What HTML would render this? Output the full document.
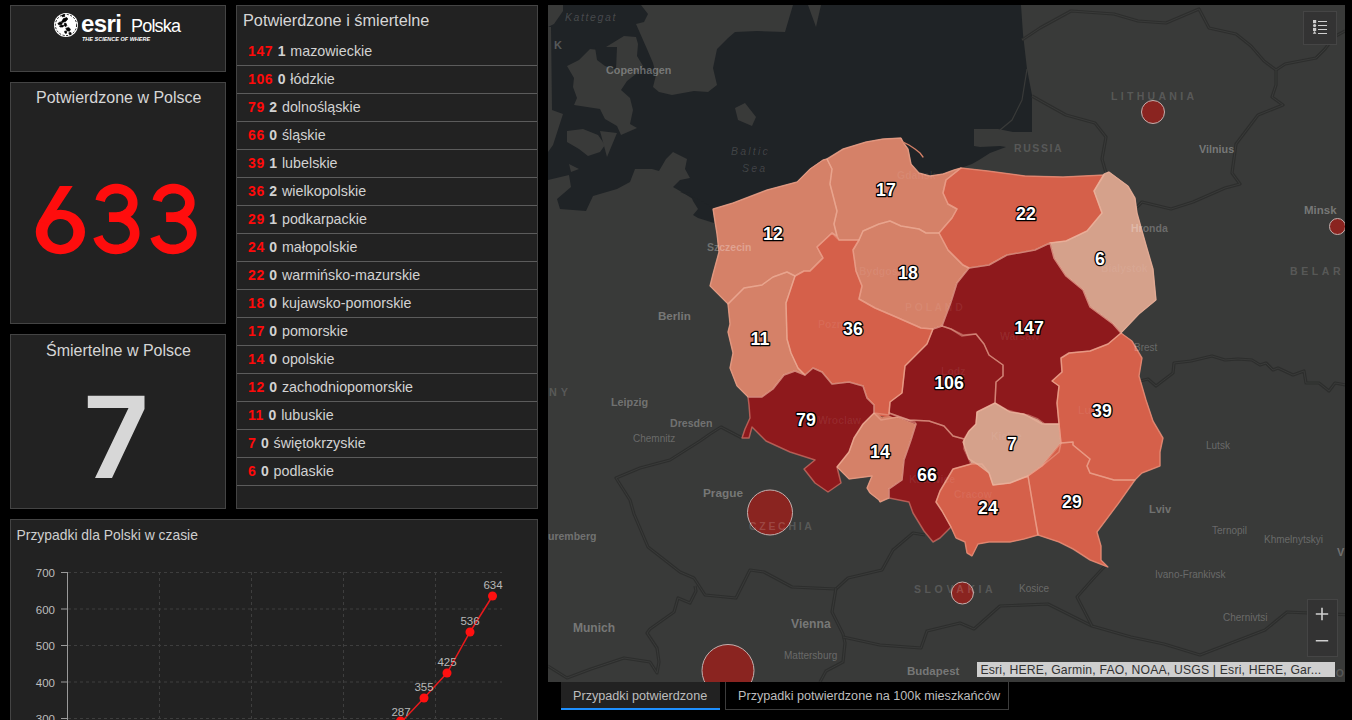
<!DOCTYPE html>
<html><head><meta charset="utf-8">
<style>
*{margin:0;padding:0;box-sizing:border-box}
html,body{width:1352px;height:720px;overflow:hidden;background:#000;font-family:"Liberation Sans",sans-serif}
.p{position:absolute;background:#222;border:1px solid #444}
.t{position:absolute;white-space:nowrap;line-height:1}
#logo{left:10px;top:5px;width:216px;height:67px}
#conf{left:10px;top:82px;width:216px;height:242px}
#dead{left:10px;top:334px;width:216px;height:175px}
#list{left:236px;top:5px;width:302px;height:504px;overflow:hidden}
#chart{left:10px;top:519px;width:528px;height:220px;overflow:hidden}
.ttl{color:#d6d6d6;font-size:16px}
.big{font-size:98px;line-height:1}
.row{position:absolute;left:0;width:300px;height:28px;border-bottom:1px solid #5c5c5c}
.rt{position:absolute;left:11px;top:0;line-height:26px;font-size:14.3px;color:#d2d2d2;white-space:nowrap;word-spacing:0.6px}
.r{color:#ff0a0a;font-weight:bold;letter-spacing:0.6px;font-size:14px}
.d{color:#d2d2d2;font-weight:bold;letter-spacing:0.2px;font-size:14px}
.tab{position:absolute;top:682px;height:28px;font-size:12.65px;color:#bdbdbd;white-space:nowrap}
</style></head><body>
<div class="p" id="logo">
  <svg width="30" height="30" viewBox="0 0 30 30" style="position:absolute;left:41px;top:5px">
    <circle cx="14" cy="14" r="12" fill="#fff"/>
    <circle cx="14" cy="14" r="10.6" fill="none" stroke="#000" stroke-width="0.9" stroke-dasharray="2,1.6"/>
    <g fill="#000" stroke="#000" stroke-width="0.7" stroke-linejoin="round">
      <path d="M9.5 10.8 L11.5 7.6 L14.8 6.6 L15.8 8 L13.6 10.6 L11 11.2Z"/>
      <path d="M5.8 12.6 L8 10.9 L10.6 11.4 L9.6 13.4 L6.8 13.8Z"/>
      <path d="M7.4 15.2 L9.6 14 L11.8 14.6 L11 15.9 L8.4 16Z"/>
      <path d="M12.2 12.6 L14 12.2 L14.8 14.6 L13.6 15.8 L12.4 14.8Z"/>
      <path d="M13.8 17.4 L16.6 16.4 L18.4 18 L17.6 20.2 L15 19.8Z"/>
      <path d="M12.6 20.2 L14.4 20 L14.6 22.2 L13 22.2Z"/>
      <path d="M16.8 21.8 L18.8 21.4 L19.2 23.2 L17.4 23.6Z"/>
      <path d="M9.8 4.2 L12.4 3.6 L12.8 5.4 L10.2 5.8Z"/>
    </g>
  </svg>
  <div class="t" style="left:70px;top:5.5px;font-size:24px;font-weight:bold;color:#fff;letter-spacing:-0.6px">esri</div>
  <div class="t" style="left:120px;top:11px;font-size:18px;color:#fff;letter-spacing:-0.8px">Polska</div>
  <div class="t" style="left:71px;top:30.7px;font-size:5.5px;font-weight:bold;font-style:italic;color:#fff">THE SCIENCE OF WHERE</div>
</div>
<div class="p" id="conf">
  <div class="t ttl" style="left:25px;top:7px">Potwierdzone w Polsce</div>
  <svg width="1352" height="720" style="position:absolute;left:-11px;top:-83px"><g fill="#ff0d0d"><path fill-rule="evenodd" d="M35.8 232.0 A24.6 22.2 0 1 0 85.0 232.0 A24.6 22.2 0 1 0 35.8 232.0 Z M47.5 232.0 A12.9 12.9 0 1 0 73.3 232.0 A12.9 12.9 0 1 0 47.5 232.0 Z"/><path d="M59.8 186 L72.7 186 L56.5 210.6 L48 224 L38.7 221.5 Z"/></g><g fill="none" stroke="#ff0d0d" stroke-width="9.6"><path d="M100.2 200.8 L100.6 199.2 L101.1 197.7 L101.9 196.2 L102.9 194.8 L104.0 193.5 L105.3 192.4 L106.8 191.3 L108.3 190.5 L110.0 189.7 L111.8 189.2 L113.6 188.8 L115.4 188.6 L117.3 188.6 L119.2 188.8 L121.0 189.2 L122.7 189.7 L124.4 190.4 L126.0 191.3 L127.4 192.3 L128.7 193.5 L129.9 194.8 L130.8 196.2 L131.6 197.6 L132.2 199.2 L132.6 200.8 L132.7 202.4 L132.7 204.0 L132.4 205.6 L132.0 207.2 L131.3 208.7 L130.4 210.1 L129.4 211.5 L128.1 212.7 L126.8 213.8 L125.2 214.7 L123.6 215.5 L121.9 216.2 L120.1 216.6 L118.3 216.9 L116.4 217.0 L109.0 217.1 M109.0 217.2 L116.1 217.0 L118.2 217.1 L120.3 217.4 L122.3 217.9 L124.2 218.6 L126.0 219.5 L127.7 220.6 L129.3 221.8 L130.7 223.1 L131.9 224.6 L132.9 226.2 L133.7 227.9 L134.3 229.7 L134.6 231.5 L134.7 233.3 L134.6 235.1 L134.2 236.9 L133.6 238.6 L132.8 240.3 L131.8 241.9 L130.6 243.4 L129.1 244.7 L127.6 245.9 L125.9 247.0 L124.0 247.9 L122.1 248.5 L120.1 249.0 L118.0 249.3 L115.9 249.4 L113.8 249.3 L111.8 249.0 L109.8 248.4 L107.8 247.7 L106.0 246.8 L104.3 245.7 L102.8 244.5 L101.4 243.1 L100.2 241.6 L99.2 240.0 L98.5 238.3 L97.9 236.6"/><path d="M157.3 200.8 L157.7 199.2 L158.2 197.7 L159.0 196.2 L160.0 194.8 L161.1 193.5 L162.4 192.4 L163.9 191.3 L165.4 190.5 L167.1 189.7 L168.9 189.2 L170.7 188.8 L172.5 188.6 L174.4 188.6 L176.3 188.8 L178.1 189.2 L179.8 189.7 L181.5 190.4 L183.1 191.3 L184.5 192.3 L185.8 193.5 L187.0 194.8 L187.9 196.2 L188.7 197.6 L189.3 199.2 L189.7 200.8 L189.8 202.4 L189.8 204.0 L189.5 205.6 L189.1 207.2 L188.4 208.7 L187.5 210.1 L186.5 211.5 L185.2 212.7 L183.9 213.8 L182.3 214.7 L180.7 215.5 L179.0 216.2 L177.2 216.6 L175.4 216.9 L173.5 217.0 L166.1 217.1 M166.1 217.2 L173.2 217.0 L175.3 217.1 L177.4 217.4 L179.4 217.9 L181.3 218.6 L183.1 219.5 L184.8 220.6 L186.4 221.8 L187.8 223.1 L189.0 224.6 L190.0 226.2 L190.8 227.9 L191.4 229.7 L191.7 231.5 L191.8 233.3 L191.7 235.1 L191.3 236.9 L190.7 238.6 L189.9 240.3 L188.9 241.9 L187.7 243.4 L186.2 244.7 L184.7 245.9 L183.0 247.0 L181.1 247.9 L179.2 248.5 L177.2 249.0 L175.1 249.3 L173.0 249.4 L170.9 249.3 L168.9 249.0 L166.9 248.4 L164.9 247.7 L163.1 246.8 L161.4 245.7 L159.9 244.5 L158.5 243.1 L157.3 241.6 L156.3 240.0 L155.6 238.3 L155.0 236.6"/></g></svg>
</div>
<div class="p" id="dead">
  <div class="t ttl" style="left:35px;top:8px">Śmiertelne w Polsce</div>
  <svg width="216" height="175" style="position:absolute;left:-1px;top:-1px"><polygon points="77.8,61.8 134.5,61.8 134.5,75 102,144 85,144 118.5,74 77.8,74" fill="#d7d7d7"/></svg>
</div>
<div class="p" id="list">
  <div class="t ttl" style="left:6px;top:6px;font-size:16.3px">Potwierdzone i śmiertelne</div>
<div class="row" style="top:32px"><div class="rt"><b class="r">147</b> <b class="d">1</b> mazowieckie</div></div>
<div class="row" style="top:60px"><div class="rt"><b class="r">106</b> <b class="d">0</b> łódzkie</div></div>
<div class="row" style="top:88px"><div class="rt"><b class="r">79</b> <b class="d">2</b> dolnośląskie</div></div>
<div class="row" style="top:116px"><div class="rt"><b class="r">66</b> <b class="d">0</b> śląskie</div></div>
<div class="row" style="top:144px"><div class="rt"><b class="r">39</b> <b class="d">1</b> lubelskie</div></div>
<div class="row" style="top:172px"><div class="rt"><b class="r">36</b> <b class="d">2</b> wielkopolskie</div></div>
<div class="row" style="top:200px"><div class="rt"><b class="r">29</b> <b class="d">1</b> podkarpackie</div></div>
<div class="row" style="top:228px"><div class="rt"><b class="r">24</b> <b class="d">0</b> małopolskie</div></div>
<div class="row" style="top:256px"><div class="rt"><b class="r">22</b> <b class="d">0</b> warmińsko-mazurskie</div></div>
<div class="row" style="top:284px"><div class="rt"><b class="r">18</b> <b class="d">0</b> kujawsko-pomorskie</div></div>
<div class="row" style="top:312px"><div class="rt"><b class="r">17</b> <b class="d">0</b> pomorskie</div></div>
<div class="row" style="top:340px"><div class="rt"><b class="r">14</b> <b class="d">0</b> opolskie</div></div>
<div class="row" style="top:368px"><div class="rt"><b class="r">12</b> <b class="d">0</b> zachodniopomorskie</div></div>
<div class="row" style="top:396px"><div class="rt"><b class="r">11</b> <b class="d">0</b> lubuskie</div></div>
<div class="row" style="top:424px"><div class="rt"><b class="r">7</b> <b class="d">0</b> świętokrzyskie</div></div>
<div class="row" style="top:452px"><div class="rt"><b class="r">6</b> <b class="d">0</b> podlaskie</div></div>
</div>
<div class="p" id="chart">
  <div class="t" style="left:5.5px;top:9px;font-size:13.9px;color:#cfcfcf">Przypadki dla Polski w czasie</div>
  <svg width="528" height="220" viewBox="10 519 528 220" style="position:absolute;left:-1px;top:-1px">
    <g stroke="#3e3e3e" stroke-width="1" stroke-dasharray="3,3" fill="none">
      <path d="M68 572.5H502 M68 609H502 M68 645.5H502 M68 682H502 M68 718.5H502"/>
      <path d="M159.5 572V720 M251.5 572V720 M343.5 572V720 M435.5 572V720"/>
    </g>
    <path d="M67.5 572V720 M61 572.5H67.5 M61 609H67.5 M61 645.5H67.5 M61 682H67.5 M61 718.5H67.5" stroke="#9a9a9a" stroke-width="1" fill="none"/>
    <g font-family="Liberation Sans" font-size="11.5" fill="#bdbdbd" text-anchor="end">
      <text x="55" y="577">700</text><text x="55" y="613.5">600</text><text x="55" y="650">500</text><text x="55" y="686.5">400</text><text x="55" y="723">300</text>
    </g>
    <polyline points="378,736 400.5,723 424,698 447,673 470,632 492.5,596" fill="none" stroke="#e8191c" stroke-width="1.5"/>
    <g fill="#ff1010"><circle cx="400.5" cy="721" r="4.5"/><circle cx="424" cy="698" r="4.5"/><circle cx="447" cy="673" r="4.5"/><circle cx="470" cy="632" r="4.5"/><circle cx="492.5" cy="596" r="4.5"/></g>
    <g font-family="Liberation Sans" font-size="11.5" fill="#b8b8b8" text-anchor="middle">
      <text x="401" y="716">287</text><text x="424" y="691">355</text><text x="447" y="666">425</text><text x="470" y="624.5">536</text><text x="493" y="589">634</text>
    </g>
  </svg>
</div>
<div class="tab" style="left:561px;width:159px;background:#222;border-bottom:2px solid #1e90ff"><span style="position:absolute;left:12px;top:8.2px;line-height:1">Przypadki potwierdzone</span></div>
<div class="tab" style="left:725px;width:284px;border:1px solid #3c3c3c;border-top:none"><span style="position:absolute;left:12px;top:8.2px;line-height:1">Przypadki potwierdzone na 100k mieszkańców</span></div>
<svg width="1352" height="720" viewBox="0 0 1352 720" style="position:absolute;left:0;top:0">
<defs><clipPath id="mc"><rect x="548" y="5" width="797" height="677"/></clipPath></defs>
<g clip-path="url(#mc)">
<rect x="548" y="5" width="797" height="677" fill="#393a39"/>
<polygon points="548,5 1021,5 1023,34 1027,69 1032,95 1032,132 1013,132 998,129 974,129 974,146 980,147 1000,146 1006,147 990,153 979,160 972,164 961,168 943,174 930,176 919,173 911,164 908,149 903,142 901,138 883,139 866,142 843,149 823,160 810,169 797,182 767,190 733,203 713,209 704,208 696,201 685,194 673,187 680,180 690,178 685,169 687,159 673,152 666,159 659,171 652,169 635,169 630,182 617,189 593,196 586,211 560,209 557,199 571,187 569,175 548,180" fill="#1f2326"/>
<polygon points="641,5 793,5 785,32 757,31 735,32 728,38 717,49 713,68 717,85 708,92 694,91 672,95 659,92 653,87 656,75 653,63 647,49 636,24 644,22 648,14" fill="#393a39"/>
<polygon points="808,5 821,5 816,27" fill="#393a39"/>
<polygon points="567,66 579,60 590,49 599,50 606,47 624,36 636,37 638,44 637,56 643,66 636,74 627,81 621,90 630,98 633,110 630,124 637,128 621,135 617,126 605,119 600,109 574,105 577,98 573,87 574,78" fill="#393a39"/>
<polygon points="567,131 583,129 598,135 605,145 600,152 588,156 579,149 567,142" fill="#393a39"/>
<polygon points="600,131 617,133 607,157" fill="#393a39"/>
<polygon points="569,164 579,169 571,172" fill="#393a39"/>
<polygon points="548,5 563,5 563,11 554,24 548,27" fill="#393a39"/>
<polygon points="548,27 551,27 552,110 563,114 553,145 548,152" fill="#393a39"/>
<polygon points="735,108 745,103 756,117 752,126 738,120" fill="#393a39"/>
<polygon points="595,47 617,47 616,70 605,66 597,60" fill="#1f2326"/>
<polygon points="680,192 700,200 713,208 714,223 698,218 693,215 698,209 693,201 690,193" fill="#1f2326"/>
<polyline points="1027,69 1022,100 1012,120 1000,130" fill="none" stroke="#393a39" stroke-width="1.2"/>
<polyline points="1022,40 1040,28 1071,11 1114,14 1138,21 1166,23 1199,9 1209,28 1236,34 1251,46 1264,61 1276,70 1285,64 1316,58 1325,49 1334,37 1345,31" fill="none" stroke="#2d2e2d" stroke-width="3.2" stroke-linejoin="round"/>
<polyline points="1022,40 1040,28 1071,11 1114,14 1138,21 1166,23 1199,9 1209,28 1236,34 1251,46 1264,61 1276,70 1285,64 1316,58 1325,49 1334,37 1345,31" fill="none" stroke="#393a39" stroke-width="1" stroke-linejoin="round"/>
<polyline points="1276,70 1276,85 1272,97 1283,105 1258,115 1236,144 1232,173 1240,184 1225,188 1193,202 1171,209 1142,202 1137,207" fill="none" stroke="#2d2e2d" stroke-width="3.2" stroke-linejoin="round"/>
<polyline points="1276,70 1276,85 1272,97 1283,105 1258,115 1236,144 1232,173 1240,184 1225,188 1193,202 1171,209 1142,202 1137,207" fill="none" stroke="#393a39" stroke-width="1" stroke-linejoin="round"/>
<polyline points="1032,96 1048,105 1066,115 1095,123 1106,137 1102,159 1106,173" fill="none" stroke="#2d2e2d" stroke-width="3.2" stroke-linejoin="round"/>
<polyline points="1032,96 1048,105 1066,115 1095,123 1106,137 1102,159 1106,173" fill="none" stroke="#393a39" stroke-width="1" stroke-linejoin="round"/>
<polyline points="1140,381 1148,379 1156,386 1173,373 1174,363 1191,361 1212,356 1225,360 1238,359 1252,360 1260,365 1266,363 1273,370 1278,368 1293,375 1304,371 1306,383 1319,383 1329,391 1335,383 1352,386" fill="none" stroke="#2d2e2d" stroke-width="3.2" stroke-linejoin="round"/>
<polyline points="1140,381 1148,379 1156,386 1173,373 1174,363 1191,361 1212,356 1225,360 1238,359 1252,360 1260,365 1266,363 1273,370 1278,368 1293,375 1304,371 1306,383 1319,383 1329,391 1335,383 1352,386" fill="none" stroke="#393a39" stroke-width="1" stroke-linejoin="round"/>
<polyline points="742,438 721,427 710,434 700,441 670,460 640,468 616,478 630,500 634,514 648,547 680,572 694,578 705,595 736,598 750,570 764,572 792,587 836,589 848,578 882,570 893,550 913,533 925,535" fill="none" stroke="#2d2e2d" stroke-width="3.2" stroke-linejoin="round"/>
<polyline points="742,438 721,427 710,434 700,441 670,460 640,468 616,478 630,500 634,514 648,547 680,572 694,578 705,595 736,598 750,570 764,572 792,587 836,589 848,578 882,570 893,550 913,533 925,535" fill="none" stroke="#393a39" stroke-width="1" stroke-linejoin="round"/>
<polyline points="695,586 696,591 690,603 678,598 674,612 650,629 647,633 657,648 659,662 657,673 650,662 624,658 591,669 567,678 548,666" fill="none" stroke="#2d2e2d" stroke-width="3.2" stroke-linejoin="round"/>
<polyline points="695,586 696,591 690,603 678,598 674,612 650,629 647,633 657,648 659,662 657,673 650,662 624,658 591,669 567,678 548,666" fill="none" stroke="#393a39" stroke-width="1" stroke-linejoin="round"/>
<polyline points="836,588 832,612 843,634 845,643 843,662 826,671 820,682" fill="none" stroke="#2d2e2d" stroke-width="3.2" stroke-linejoin="round"/>
<polyline points="836,588 832,612 843,634 845,643 843,662 826,671 820,682" fill="none" stroke="#393a39" stroke-width="1" stroke-linejoin="round"/>
<polyline points="843,637 880,645 921,648 927,631 960,623 974,629 1000,606 1048,604 1092,626 1131,637 1164,644 1200,655 1265,630 1287,612 1352,615" fill="none" stroke="#2d2e2d" stroke-width="3.2" stroke-linejoin="round"/>
<polyline points="843,637 880,645 921,648 927,631 960,623 974,629 1000,606 1048,604 1092,626 1131,637 1164,644 1200,655 1265,630 1287,612 1352,615" fill="none" stroke="#393a39" stroke-width="1" stroke-linejoin="round"/>
<polyline points="1105,566 1092,580 1077,597 1092,626" fill="none" stroke="#2d2e2d" stroke-width="3.2" stroke-linejoin="round"/>
<polyline points="1105,566 1092,580 1077,597 1092,626" fill="none" stroke="#393a39" stroke-width="1" stroke-linejoin="round"/>
<clipPath id="pl"><polygon points="713,209 733,203 767,190 797,182 810,169 823,160 827,159 843,149 866,142 883,139 901,138 903,142 908,149 911,164 919,173 930,176 943,174 954,170 961,168 988,171 1025,176 1063,177 1104,175 1109,172 1128,186 1135,198 1137,213 1146,245 1153,269 1156,300 1139,314 1121,333 1132,341 1142,358 1139,376 1146,400 1153,421 1163,438 1160,452 1160,466 1142,473 1135,480 1118,504 1097,532 1101,546 1101,560 1108,567 1090,560 1073,549 1059,542 1038,535 1024,539 1010,542 989,542 978,544 972,556 967,553 965,542 956,538 951,527 940,538 933,542 924,531 913,513 909,502 889,498 880,502 879,500 870,493 867,488 872,476 849,479 839,469 837,467 841,483 828,492 815,483 804,469 815,460 790,452 766,441 756,431 752,427 749,438 742,438 745,429 750,418 749,405 748,397 737,386 730,368 733,353 728,332 730,324 728,304 719,295 710,286 713,274 719,252 717,234"/></clipPath>
<g clip-path="url(#pl)">
<polygon points="713,209 733,203 767,190 797,182 810,169 823,160 827,159 832,169 830,184 837,211 834,224 837,236 832,233 817,247 823,258 810,271 804,271 795,276 787,272 773,277 762,285 744,288 728,304 719,295 710,286 713,274 719,252 717,234" fill="#d58168" stroke="#d58168" stroke-width="5" stroke-linejoin="round"/>
<polygon points="827,159 843,149 866,142 883,139 901,138 903,142 908,149 911,164 919,173 930,176 943,174 954,170 961,168 946,180 943,193 948,204 957,209 952,218 939,233 926,233 919,229 901,226 890,221 879,224 863,231 859,240 839,240 837,236 834,224 837,211 830,184 832,169" fill="#d58168" stroke="#d58168" stroke-width="5" stroke-linejoin="round"/>
<polygon points="859,240 863,231 879,224 890,221 901,226 919,229 926,233 939,233 948,250 963,265 969,268 957,283 951,302 942,326 933,329 921,328 896,317 875,308 859,299 862,286 856,271 853,250" fill="#d58168" stroke="#d58168" stroke-width="5" stroke-linejoin="round"/>
<polygon points="961,168 988,171 1025,176 1063,177 1104,175 1094,191 1102,213 1087,231 1066,241 1050,243 1035,250 1007,255 989,265 969,268 963,265 948,250 939,233 952,218 957,209 948,204 943,193 946,180" fill="#d5604a" stroke="#d5604a" stroke-width="5" stroke-linejoin="round"/>
<polygon points="1104,174 1109,172 1128,186 1135,198 1137,213 1146,245 1153,269 1156,300 1139,314 1121,333 1113,324 1090,307 1083,290 1066,276 1054,258 1050,243 1066,241 1087,231 1102,213 1094,191" fill="#d5a18b" stroke="#d5a18b" stroke-width="5" stroke-linejoin="round"/>
<polygon points="969,268 989,265 1007,255 1035,250 1050,243 1054,258 1066,276 1083,290 1090,307 1113,324 1121,333 1108,344 1090,351 1069,353 1061,358 1062,372 1052,381 1059,386 1057,403 1059,424 1045,424 1038,419 1028,415 1021,414 1007,410 995,403 996,382 1003,376 1003,365 989,355 984,344 976,334 962,336 951,329 942,326 951,302 957,283" fill="#8e191c" stroke="#8e191c" stroke-width="5" stroke-linejoin="round"/>
<polygon points="933,329 942,326 951,329 963,335 976,334 984,344 989,355 1003,365 1003,376 996,382 995,403 977,412 976,424 969,431 964,439 953,436 944,426 929,421 909,420 889,413 890,402 902,393 905,366 917,354 927,344" fill="#8e191c" stroke="#8e191c" stroke-width="5" stroke-linejoin="round"/>
<polygon points="832,233 839,240 859,240 853,250 856,271 862,286 859,299 875,308 896,317 921,328 933,329 927,344 917,354 905,366 902,393 890,402 889,415 874,413 874,405 867,398 863,386 849,382 832,384 822,372 813,368 805,375 798,368 791,353 787,339 786,303 795,276 804,271 810,271 823,258 817,247" fill="#d5604a" stroke="#d5604a" stroke-width="5" stroke-linejoin="round"/>
<polygon points="728,304 744,288 762,285 773,277 787,272 795,276 786,303 787,339 791,353 798,368 805,375 795,371 784,375 773,389 762,397 748,397 737,386 730,368 733,353 728,332 730,324" fill="#d58168" stroke="#d58168" stroke-width="5" stroke-linejoin="round"/>
<polygon points="748,397 762,397 773,389 784,375 795,371 805,375 813,368 822,372 832,384 849,382 863,386 867,398 874,405 874,413 863,424 854,438 849,452 837,467 841,483 828,492 815,483 804,469 815,460 790,452 766,441 756,431 752,427 749,438 742,438 745,429 750,418 749,405" fill="#8e191c" stroke="#8e191c" stroke-width="5" stroke-linejoin="round"/>
<polygon points="874,413 881,420 898,417 915,422 916,424 911,440 904,460 902,480 889,489 889,498 880,502 879,500 870,493 867,488 872,476 849,479 839,469 837,467 849,452 854,438 863,424" fill="#d58168" stroke="#d58168" stroke-width="5" stroke-linejoin="round"/>
<polygon points="889,413 909,420 929,421 944,426 953,436 964,439 964,449 971,464 953,469 940,491 936,502 942,511 951,527 940,538 933,542 924,531 913,513 909,502 889,498 889,489 902,480 904,460 911,440 916,424" fill="#8e191c" stroke="#8e191c" stroke-width="5" stroke-linejoin="round"/>
<polygon points="936,502 940,491 953,469 971,464 982,464 989,473 993,485 1010,483 1028,476 1031,494 1035,518 1038,535 1024,539 1010,542 989,542 978,544 972,556 967,553 965,542 956,538 951,527 942,511" fill="#d5604a" stroke="#d5604a" stroke-width="5" stroke-linejoin="round"/>
<polygon points="995,403 1010,412 1024,414 1042,424 1059,424 1061,443 1059,452 1042,466 1028,476 1010,483 993,485 989,473 977,464 969,459 963,442 969,431 976,424 977,412" fill="#d5a18b" stroke="#d5a18b" stroke-width="5" stroke-linejoin="round"/>
<polygon points="1121,333 1132,341 1142,358 1139,376 1146,400 1153,421 1163,438 1160,452 1160,466 1142,473 1135,480 1114,480 1090,473 1087,466 1090,459 1073,445 1073,442 1061,443 1059,424 1057,403 1059,386 1052,381 1062,372 1061,358 1069,353 1090,351 1108,344" fill="#d5604a" stroke="#d5604a" stroke-width="5" stroke-linejoin="round"/>
<polygon points="1028,476 1042,466 1061,443 1073,442 1073,445 1090,459 1087,466 1090,473 1114,480 1135,480 1118,504 1097,532 1101,546 1101,560 1108,567 1090,560 1073,549 1059,542 1038,535 1035,518 1031,494" fill="#d5604a" stroke="#d5604a" stroke-width="5" stroke-linejoin="round"/>
</g>
<polygon points="713,209 733,203 767,190 797,182 810,169 823,160 827,159 832,169 830,184 837,211 834,224 837,236 832,233 817,247 823,258 810,271 804,271 795,276 787,272 773,277 762,285 744,288 728,304 719,295 710,286 713,274 719,252 717,234" fill="#d58168" stroke="#d58168" stroke-width="1"/>
<polygon points="827,159 843,149 866,142 883,139 901,138 903,142 908,149 911,164 919,173 930,176 943,174 954,170 961,168 946,180 943,193 948,204 957,209 952,218 939,233 926,233 919,229 901,226 890,221 879,224 863,231 859,240 839,240 837,236 834,224 837,211 830,184 832,169" fill="#d58168" stroke="#d58168" stroke-width="1"/>
<polygon points="859,240 863,231 879,224 890,221 901,226 919,229 926,233 939,233 948,250 963,265 969,268 957,283 951,302 942,326 933,329 921,328 896,317 875,308 859,299 862,286 856,271 853,250" fill="#d58168" stroke="#d58168" stroke-width="1"/>
<polygon points="961,168 988,171 1025,176 1063,177 1104,175 1094,191 1102,213 1087,231 1066,241 1050,243 1035,250 1007,255 989,265 969,268 963,265 948,250 939,233 952,218 957,209 948,204 943,193 946,180" fill="#d5604a" stroke="#d5604a" stroke-width="1"/>
<polygon points="1104,174 1109,172 1128,186 1135,198 1137,213 1146,245 1153,269 1156,300 1139,314 1121,333 1113,324 1090,307 1083,290 1066,276 1054,258 1050,243 1066,241 1087,231 1102,213 1094,191" fill="#d5a18b" stroke="#d5a18b" stroke-width="1"/>
<polygon points="969,268 989,265 1007,255 1035,250 1050,243 1054,258 1066,276 1083,290 1090,307 1113,324 1121,333 1108,344 1090,351 1069,353 1061,358 1062,372 1052,381 1059,386 1057,403 1059,424 1045,424 1038,419 1028,415 1021,414 1007,410 995,403 996,382 1003,376 1003,365 989,355 984,344 976,334 962,336 951,329 942,326 951,302 957,283" fill="#8e191c" stroke="#8e191c" stroke-width="1"/>
<polygon points="933,329 942,326 951,329 963,335 976,334 984,344 989,355 1003,365 1003,376 996,382 995,403 977,412 976,424 969,431 964,439 953,436 944,426 929,421 909,420 889,413 890,402 902,393 905,366 917,354 927,344" fill="#8e191c" stroke="#8e191c" stroke-width="1"/>
<polygon points="832,233 839,240 859,240 853,250 856,271 862,286 859,299 875,308 896,317 921,328 933,329 927,344 917,354 905,366 902,393 890,402 889,415 874,413 874,405 867,398 863,386 849,382 832,384 822,372 813,368 805,375 798,368 791,353 787,339 786,303 795,276 804,271 810,271 823,258 817,247" fill="#d5604a" stroke="#d5604a" stroke-width="1"/>
<polygon points="728,304 744,288 762,285 773,277 787,272 795,276 786,303 787,339 791,353 798,368 805,375 795,371 784,375 773,389 762,397 748,397 737,386 730,368 733,353 728,332 730,324" fill="#d58168" stroke="#d58168" stroke-width="1"/>
<polygon points="748,397 762,397 773,389 784,375 795,371 805,375 813,368 822,372 832,384 849,382 863,386 867,398 874,405 874,413 863,424 854,438 849,452 837,467 841,483 828,492 815,483 804,469 815,460 790,452 766,441 756,431 752,427 749,438 742,438 745,429 750,418 749,405" fill="#8e191c" stroke="#8e191c" stroke-width="1"/>
<polygon points="874,413 881,420 898,417 915,422 916,424 911,440 904,460 902,480 889,489 889,498 880,502 879,500 870,493 867,488 872,476 849,479 839,469 837,467 849,452 854,438 863,424" fill="#d58168" stroke="#d58168" stroke-width="1"/>
<polygon points="889,413 909,420 929,421 944,426 953,436 964,439 964,449 971,464 953,469 940,491 936,502 942,511 951,527 940,538 933,542 924,531 913,513 909,502 889,498 889,489 902,480 904,460 911,440 916,424" fill="#8e191c" stroke="#8e191c" stroke-width="1"/>
<polygon points="936,502 940,491 953,469 971,464 982,464 989,473 993,485 1010,483 1028,476 1031,494 1035,518 1038,535 1024,539 1010,542 989,542 978,544 972,556 967,553 965,542 956,538 951,527 942,511" fill="#d5604a" stroke="#d5604a" stroke-width="1"/>
<polygon points="995,403 1010,412 1024,414 1042,424 1059,424 1061,443 1059,452 1042,466 1028,476 1010,483 993,485 989,473 977,464 969,459 963,442 969,431 976,424 977,412" fill="#d5a18b" stroke="#d5a18b" stroke-width="1"/>
<polygon points="1121,333 1132,341 1142,358 1139,376 1146,400 1153,421 1163,438 1160,452 1160,466 1142,473 1135,480 1114,480 1090,473 1087,466 1090,459 1073,445 1073,442 1061,443 1059,424 1057,403 1059,386 1052,381 1062,372 1061,358 1069,353 1090,351 1108,344" fill="#d5604a" stroke="#d5604a" stroke-width="1"/>
<polygon points="1028,476 1042,466 1061,443 1073,442 1073,445 1090,459 1087,466 1090,473 1114,480 1135,480 1118,504 1097,532 1101,546 1101,560 1108,567 1090,560 1073,549 1059,542 1038,535 1035,518 1031,494" fill="#d5604a" stroke="#d5604a" stroke-width="1"/>
<polygon points="713,209 733,203 767,190 797,182 810,169 823,160 827,159 832,169 830,184 837,211 834,224 837,236 832,233 817,247 823,258 810,271 804,271 795,276 787,272 773,277 762,285 744,288 728,304 719,295 710,286 713,274 719,252 717,234" fill="none" stroke="#f2b8a2" stroke-opacity="0.42" stroke-width="1.5" stroke-linejoin="round"/>
<polygon points="827,159 843,149 866,142 883,139 901,138 903,142 908,149 911,164 919,173 930,176 943,174 954,170 961,168 946,180 943,193 948,204 957,209 952,218 939,233 926,233 919,229 901,226 890,221 879,224 863,231 859,240 839,240 837,236 834,224 837,211 830,184 832,169" fill="none" stroke="#f2b8a2" stroke-opacity="0.42" stroke-width="1.5" stroke-linejoin="round"/>
<polygon points="859,240 863,231 879,224 890,221 901,226 919,229 926,233 939,233 948,250 963,265 969,268 957,283 951,302 942,326 933,329 921,328 896,317 875,308 859,299 862,286 856,271 853,250" fill="none" stroke="#f2b8a2" stroke-opacity="0.42" stroke-width="1.5" stroke-linejoin="round"/>
<polygon points="961,168 988,171 1025,176 1063,177 1104,175 1094,191 1102,213 1087,231 1066,241 1050,243 1035,250 1007,255 989,265 969,268 963,265 948,250 939,233 952,218 957,209 948,204 943,193 946,180" fill="none" stroke="#f2b8a2" stroke-opacity="0.42" stroke-width="1.5" stroke-linejoin="round"/>
<polygon points="1104,174 1109,172 1128,186 1135,198 1137,213 1146,245 1153,269 1156,300 1139,314 1121,333 1113,324 1090,307 1083,290 1066,276 1054,258 1050,243 1066,241 1087,231 1102,213 1094,191" fill="none" stroke="#f2b8a2" stroke-opacity="0.42" stroke-width="1.5" stroke-linejoin="round"/>
<polygon points="969,268 989,265 1007,255 1035,250 1050,243 1054,258 1066,276 1083,290 1090,307 1113,324 1121,333 1108,344 1090,351 1069,353 1061,358 1062,372 1052,381 1059,386 1057,403 1059,424 1045,424 1038,419 1028,415 1021,414 1007,410 995,403 996,382 1003,376 1003,365 989,355 984,344 976,334 962,336 951,329 942,326 951,302 957,283" fill="none" stroke="#f2b8a2" stroke-opacity="0.42" stroke-width="1.5" stroke-linejoin="round"/>
<polygon points="933,329 942,326 951,329 963,335 976,334 984,344 989,355 1003,365 1003,376 996,382 995,403 977,412 976,424 969,431 964,439 953,436 944,426 929,421 909,420 889,413 890,402 902,393 905,366 917,354 927,344" fill="none" stroke="#f2b8a2" stroke-opacity="0.42" stroke-width="1.5" stroke-linejoin="round"/>
<polygon points="832,233 839,240 859,240 853,250 856,271 862,286 859,299 875,308 896,317 921,328 933,329 927,344 917,354 905,366 902,393 890,402 889,415 874,413 874,405 867,398 863,386 849,382 832,384 822,372 813,368 805,375 798,368 791,353 787,339 786,303 795,276 804,271 810,271 823,258 817,247" fill="none" stroke="#f2b8a2" stroke-opacity="0.42" stroke-width="1.5" stroke-linejoin="round"/>
<polygon points="728,304 744,288 762,285 773,277 787,272 795,276 786,303 787,339 791,353 798,368 805,375 795,371 784,375 773,389 762,397 748,397 737,386 730,368 733,353 728,332 730,324" fill="none" stroke="#f2b8a2" stroke-opacity="0.42" stroke-width="1.5" stroke-linejoin="round"/>
<polygon points="748,397 762,397 773,389 784,375 795,371 805,375 813,368 822,372 832,384 849,382 863,386 867,398 874,405 874,413 863,424 854,438 849,452 837,467 841,483 828,492 815,483 804,469 815,460 790,452 766,441 756,431 752,427 749,438 742,438 745,429 750,418 749,405" fill="none" stroke="#f2b8a2" stroke-opacity="0.42" stroke-width="1.5" stroke-linejoin="round"/>
<polygon points="874,413 881,420 898,417 915,422 916,424 911,440 904,460 902,480 889,489 889,498 880,502 879,500 870,493 867,488 872,476 849,479 839,469 837,467 849,452 854,438 863,424" fill="none" stroke="#f2b8a2" stroke-opacity="0.42" stroke-width="1.5" stroke-linejoin="round"/>
<polygon points="889,413 909,420 929,421 944,426 953,436 964,439 964,449 971,464 953,469 940,491 936,502 942,511 951,527 940,538 933,542 924,531 913,513 909,502 889,498 889,489 902,480 904,460 911,440 916,424" fill="none" stroke="#f2b8a2" stroke-opacity="0.42" stroke-width="1.5" stroke-linejoin="round"/>
<polygon points="936,502 940,491 953,469 971,464 982,464 989,473 993,485 1010,483 1028,476 1031,494 1035,518 1038,535 1024,539 1010,542 989,542 978,544 972,556 967,553 965,542 956,538 951,527 942,511" fill="none" stroke="#f2b8a2" stroke-opacity="0.42" stroke-width="1.5" stroke-linejoin="round"/>
<polygon points="995,403 1010,412 1024,414 1042,424 1059,424 1061,443 1059,452 1042,466 1028,476 1010,483 993,485 989,473 977,464 969,459 963,442 969,431 976,424 977,412" fill="none" stroke="#f2b8a2" stroke-opacity="0.42" stroke-width="1.5" stroke-linejoin="round"/>
<polygon points="1121,333 1132,341 1142,358 1139,376 1146,400 1153,421 1163,438 1160,452 1160,466 1142,473 1135,480 1114,480 1090,473 1087,466 1090,459 1073,445 1073,442 1061,443 1059,424 1057,403 1059,386 1052,381 1062,372 1061,358 1069,353 1090,351 1108,344" fill="none" stroke="#f2b8a2" stroke-opacity="0.42" stroke-width="1.5" stroke-linejoin="round"/>
<polygon points="1028,476 1042,466 1061,443 1073,442 1073,445 1090,459 1087,466 1090,473 1114,480 1135,480 1118,504 1097,532 1101,546 1101,560 1108,567 1090,560 1073,549 1059,542 1038,535 1035,518 1031,494" fill="none" stroke="#f2b8a2" stroke-opacity="0.42" stroke-width="1.5" stroke-linejoin="round"/>
<polyline points="903,142 909,145 915,149 920,153 923,157" fill="none" stroke="#d58168" stroke-width="1.3" stroke-linecap="round"/>
<circle cx="1153" cy="112" r="11.5" fill="#8a2420" stroke="#c4b0ae" stroke-width="1"/>
<circle cx="1337.5" cy="226.5" r="8" fill="#8a2420" stroke="#c4b0ae" stroke-width="1"/>
<circle cx="770" cy="512.5" r="22.5" fill="#8a2420" stroke="#c4b0ae" stroke-width="1"/>
<circle cx="962.4" cy="593" r="11" fill="#8a2420" stroke="#c4b0ae" stroke-width="1"/>
<circle cx="728" cy="670.5" r="26" fill="#8a2420" stroke="#c4b0ae" stroke-width="1"/>
<text x="565" y="21" font-family="Liberation Sans" font-size="10.5" font-weight="normal" font-style="italic" fill="#ffffff" fill-opacity="0.187" letter-spacing="1.6">Kattegat</text>
<text x="554" y="49" font-family="Liberation Sans" font-size="11" font-weight="bold" font-style="normal" fill="#ffffff" fill-opacity="0.247" letter-spacing="0">K</text>
<text x="606" y="74" font-family="Liberation Sans" font-size="10.8" font-weight="bold" font-style="normal" fill="#ffffff" fill-opacity="0.328" letter-spacing="0">Copenhagen</text>
<text x="731" y="155" font-family="Liberation Sans" font-size="10.5" font-weight="normal" font-style="italic" fill="#ffffff" fill-opacity="0.152" letter-spacing="2.2">Baltic</text>
<text x="742" y="172" font-family="Liberation Sans" font-size="10.5" font-weight="normal" font-style="italic" fill="#ffffff" fill-opacity="0.152" letter-spacing="2.2">Sea</text>
<text x="1111" y="100" font-family="Liberation Sans" font-size="10.5" font-weight="bold" font-style="normal" fill="#ffffff" fill-opacity="0.167" letter-spacing="3.3">LITHUANIA</text>
<text x="1014" y="152" font-family="Liberation Sans" font-size="10.5" font-weight="bold" font-style="normal" fill="#ffffff" fill-opacity="0.167" letter-spacing="1.6">RUSSIA</text>
<text x="1199" y="153" font-family="Liberation Sans" font-size="10.8" font-weight="bold" font-style="normal" fill="#ffffff" fill-opacity="0.328" letter-spacing="0">Vilnius</text>
<text x="1304" y="214" font-family="Liberation Sans" font-size="11.5" font-weight="bold" font-style="normal" fill="#ffffff" fill-opacity="0.328" letter-spacing="0">Minsk</text>
<text x="1290" y="275" font-family="Liberation Sans" font-size="10.5" font-weight="bold" font-style="normal" fill="#ffffff" fill-opacity="0.167" letter-spacing="3.6">BELAR</text>
<text x="1131" y="232" font-family="Liberation Sans" font-size="10.5" font-weight="bold" font-style="normal" fill="#ffffff" fill-opacity="0.258" letter-spacing="0">Hronda</text>
<text x="1134" y="351" font-family="Liberation Sans" font-size="10" font-weight="normal" font-style="normal" fill="#ffffff" fill-opacity="0.247" letter-spacing="0">Brest</text>
<text x="1206" y="449" font-family="Liberation Sans" font-size="10" font-weight="normal" font-style="normal" fill="#ffffff" fill-opacity="0.247" letter-spacing="0">Lutsk</text>
<text x="707" y="251" font-family="Liberation Sans" font-size="10.5" font-weight="bold" font-style="normal" fill="#ffffff" fill-opacity="0.278" letter-spacing="0">Szczecin</text>
<text x="658" y="320" font-family="Liberation Sans" font-size="11.6" font-weight="bold" font-style="normal" fill="#ffffff" fill-opacity="0.328" letter-spacing="0">Berlin</text>
<text x="549" y="396" font-family="Liberation Sans" font-size="10.8" font-weight="bold" font-style="normal" fill="#ffffff" fill-opacity="0.167" letter-spacing="4.0">NY</text>
<text x="611" y="406" font-family="Liberation Sans" font-size="10.8" font-weight="bold" font-style="normal" fill="#ffffff" fill-opacity="0.293" letter-spacing="0">Leipzig</text>
<text x="670" y="427" font-family="Liberation Sans" font-size="10.6" font-weight="bold" font-style="normal" fill="#ffffff" fill-opacity="0.293" letter-spacing="0">Dresden</text>
<text x="633" y="442" font-family="Liberation Sans" font-size="10" font-weight="normal" font-style="normal" fill="#ffffff" fill-opacity="0.247" letter-spacing="0">Chemnitz</text>
<text x="703" y="497" font-family="Liberation Sans" font-size="11.8" font-weight="bold" font-style="normal" fill="#ffffff" fill-opacity="0.328" letter-spacing="0">Prague</text>
<text x="749" y="530" font-family="Liberation Sans" font-size="10.5" font-weight="bold" font-style="normal" fill="#ffffff" fill-opacity="0.167" letter-spacing="2.7">CZECHIA</text>
<text x="548" y="540" font-family="Liberation Sans" font-size="10.5" font-weight="bold" font-style="normal" fill="#ffffff" fill-opacity="0.293" letter-spacing="0">uremberg</text>
<text x="573" y="632" font-family="Liberation Sans" font-size="12" font-weight="bold" font-style="normal" fill="#ffffff" fill-opacity="0.328" letter-spacing="0">Munich</text>
<text x="791" y="628" font-family="Liberation Sans" font-size="12.2" font-weight="bold" font-style="normal" fill="#ffffff" fill-opacity="0.328" letter-spacing="0">Vienna</text>
<text x="784" y="659" font-family="Liberation Sans" font-size="10" font-weight="normal" font-style="normal" fill="#ffffff" fill-opacity="0.247" letter-spacing="0">Mattersburg</text>
<text x="914" y="593" font-family="Liberation Sans" font-size="10.5" font-weight="bold" font-style="normal" fill="#ffffff" fill-opacity="0.167" letter-spacing="3.6">SLOVAKIA</text>
<text x="907" y="675" font-family="Liberation Sans" font-size="11.5" font-weight="bold" font-style="normal" fill="#ffffff" fill-opacity="0.328" letter-spacing="0">Budapest</text>
<text x="1019" y="592" font-family="Liberation Sans" font-size="10" font-weight="normal" font-style="normal" fill="#ffffff" fill-opacity="0.247" letter-spacing="0">Kosice</text>
<text x="1149" y="513" font-family="Liberation Sans" font-size="11" font-weight="bold" font-style="normal" fill="#ffffff" fill-opacity="0.293" letter-spacing="0">Lviv</text>
<text x="1212" y="534" font-family="Liberation Sans" font-size="10" font-weight="normal" font-style="normal" fill="#ffffff" fill-opacity="0.247" letter-spacing="0">Ternopil</text>
<text x="1264" y="543" font-family="Liberation Sans" font-size="10" font-weight="normal" font-style="normal" fill="#ffffff" fill-opacity="0.247" letter-spacing="0">Khmelnytskyi</text>
<text x="1337" y="556" font-family="Liberation Sans" font-size="11" font-weight="bold" font-style="normal" fill="#ffffff" fill-opacity="0.293" letter-spacing="0">V</text>
<text x="1155" y="578" font-family="Liberation Sans" font-size="10" font-weight="normal" font-style="normal" fill="#ffffff" fill-opacity="0.247" letter-spacing="0">Ivano-Frankivsk</text>
<text x="1223" y="621" font-family="Liberation Sans" font-size="10" font-weight="normal" font-style="normal" fill="#ffffff" fill-opacity="0.247" letter-spacing="0">Chernivtsi</text>
<text x="1324" y="677" font-family="Liberation Sans" font-size="10.5" font-weight="bold" font-style="normal" fill="#ffffff" fill-opacity="0.167" letter-spacing="3">MO</text>
<text x="897" y="179" font-family="Liberation Sans" font-size="10.5" font-weight="bold" fill="#ffffff" fill-opacity="0.07">Gdansk</text>
<text x="859" y="275" font-family="Liberation Sans" font-size="10.5" font-weight="bold" fill="#ffffff" fill-opacity="0.07">Bydgoszcz</text>
<text x="818" y="328" font-family="Liberation Sans" font-size="10.5" font-weight="bold" fill="#ffffff" fill-opacity="0.07">Poznan</text>
<text x="905" y="311" font-family="Liberation Sans" font-size="10.5" font-weight="bold" fill="#ffffff" fill-opacity="0.07">P O L A N D</text>
<text x="818" y="424" font-family="Liberation Sans" font-size="10.5" font-weight="bold" fill="#ffffff" fill-opacity="0.07">Wroclaw</text>
<text x="941" y="375" font-family="Liberation Sans" font-size="10.5" font-weight="bold" fill="#ffffff" fill-opacity="0.07">Lodz</text>
<text x="1000" y="340" font-family="Liberation Sans" font-size="10.5" font-weight="bold" fill="#ffffff" fill-opacity="0.07">Warsaw</text>
<text x="991" y="440" font-family="Liberation Sans" font-size="10.5" font-weight="bold" fill="#ffffff" fill-opacity="0.07">Kielce</text>
<text x="1078" y="414" font-family="Liberation Sans" font-size="10.5" font-weight="bold" fill="#ffffff" fill-opacity="0.07">Lublin</text>
<text x="909" y="483" font-family="Liberation Sans" font-size="10.5" font-weight="bold" fill="#ffffff" fill-opacity="0.07">Katowice</text>
<text x="1101" y="272" font-family="Liberation Sans" font-size="10.5" font-weight="bold" fill="#ffffff" fill-opacity="0.07">Bialystok</text>
<text x="954" y="498" font-family="Liberation Sans" font-size="10.5" font-weight="bold" fill="#ffffff" fill-opacity="0.07">Cracow</text>
<text x="773" y="240.3" text-anchor="middle" font-family="Liberation Sans" font-weight="bold" font-size="17.8" fill="#fff" stroke="#000" stroke-width="2.6" paint-order="stroke" stroke-linejoin="round">12</text>
<text x="886" y="196.3" text-anchor="middle" font-family="Liberation Sans" font-weight="bold" font-size="17.8" fill="#fff" stroke="#000" stroke-width="2.6" paint-order="stroke" stroke-linejoin="round">17</text>
<text x="1026" y="220.3" text-anchor="middle" font-family="Liberation Sans" font-weight="bold" font-size="17.8" fill="#fff" stroke="#000" stroke-width="2.6" paint-order="stroke" stroke-linejoin="round">22</text>
<text x="1100" y="265.3" text-anchor="middle" font-family="Liberation Sans" font-weight="bold" font-size="17.8" fill="#fff" stroke="#000" stroke-width="2.6" paint-order="stroke" stroke-linejoin="round">6</text>
<text x="908" y="279.3" text-anchor="middle" font-family="Liberation Sans" font-weight="bold" font-size="17.8" fill="#fff" stroke="#000" stroke-width="2.6" paint-order="stroke" stroke-linejoin="round">18</text>
<text x="853" y="335.3" text-anchor="middle" font-family="Liberation Sans" font-weight="bold" font-size="17.8" fill="#fff" stroke="#000" stroke-width="2.6" paint-order="stroke" stroke-linejoin="round">36</text>
<text x="1029" y="334.3" text-anchor="middle" font-family="Liberation Sans" font-weight="bold" font-size="17.8" fill="#fff" stroke="#000" stroke-width="2.6" paint-order="stroke" stroke-linejoin="round">147</text>
<text x="760" y="345.3" text-anchor="middle" font-family="Liberation Sans" font-weight="bold" font-size="17.8" fill="#fff" stroke="#000" stroke-width="2.6" paint-order="stroke" stroke-linejoin="round">11</text>
<text x="949" y="389.3" text-anchor="middle" font-family="Liberation Sans" font-weight="bold" font-size="17.8" fill="#fff" stroke="#000" stroke-width="2.6" paint-order="stroke" stroke-linejoin="round">106</text>
<text x="806" y="426.3" text-anchor="middle" font-family="Liberation Sans" font-weight="bold" font-size="17.8" fill="#fff" stroke="#000" stroke-width="2.6" paint-order="stroke" stroke-linejoin="round">79</text>
<text x="1102" y="417.3" text-anchor="middle" font-family="Liberation Sans" font-weight="bold" font-size="17.8" fill="#fff" stroke="#000" stroke-width="2.6" paint-order="stroke" stroke-linejoin="round">39</text>
<text x="1012" y="450.3" text-anchor="middle" font-family="Liberation Sans" font-weight="bold" font-size="17.8" fill="#fff" stroke="#000" stroke-width="2.6" paint-order="stroke" stroke-linejoin="round">7</text>
<text x="880" y="458.3" text-anchor="middle" font-family="Liberation Sans" font-weight="bold" font-size="17.8" fill="#fff" stroke="#000" stroke-width="2.6" paint-order="stroke" stroke-linejoin="round">14</text>
<text x="927" y="481.3" text-anchor="middle" font-family="Liberation Sans" font-weight="bold" font-size="17.8" fill="#fff" stroke="#000" stroke-width="2.6" paint-order="stroke" stroke-linejoin="round">66</text>
<text x="988" y="514.3" text-anchor="middle" font-family="Liberation Sans" font-weight="bold" font-size="17.8" fill="#fff" stroke="#000" stroke-width="2.6" paint-order="stroke" stroke-linejoin="round">24</text>
<text x="1072" y="508.3" text-anchor="middle" font-family="Liberation Sans" font-weight="bold" font-size="17.8" fill="#fff" stroke="#000" stroke-width="2.6" paint-order="stroke" stroke-linejoin="round">29</text>
<rect x="1303.5" y="11.5" width="33" height="33" fill="#333" stroke="#454545" stroke-width="1"/>
<g fill="#cfcfcf"><rect x="1313" y="20" width="3.2" height="3.2"/><circle cx="1314.6" cy="25.5" r="1.6"/><rect x="1313" y="27.9" width="3.2" height="3.2"/><path d="M1312.8 33.8 L1314.6 30.9 L1316.4 33.8Z"/></g>
<g stroke="#cfcfcf" stroke-width="1"><path d="M1318 21.5H1327 M1318 25.5H1327 M1318 29.5H1327 M1318 33.5H1327"/></g>
<rect x="1307.5" y="599.5" width="30" height="57" fill="#333" stroke="#454545" stroke-width="1"/>
<g stroke="#d0d0d0" stroke-width="1.6"><path d="M1315.8 614H1328.2 M1322 607.8V620.2 M1315.8 640.8H1328.2"/></g>
<rect x="977" y="662" width="358" height="15" fill="#cfcfcf"/>
<text x="980.5" y="674" font-family="Liberation Sans" font-size="12.2" letter-spacing="0.19" fill="#333">Esri, HERE, Garmin, FAO, NOAA, USGS | Esri, HERE, Gar...</text>
</g></svg>
</body></html>
